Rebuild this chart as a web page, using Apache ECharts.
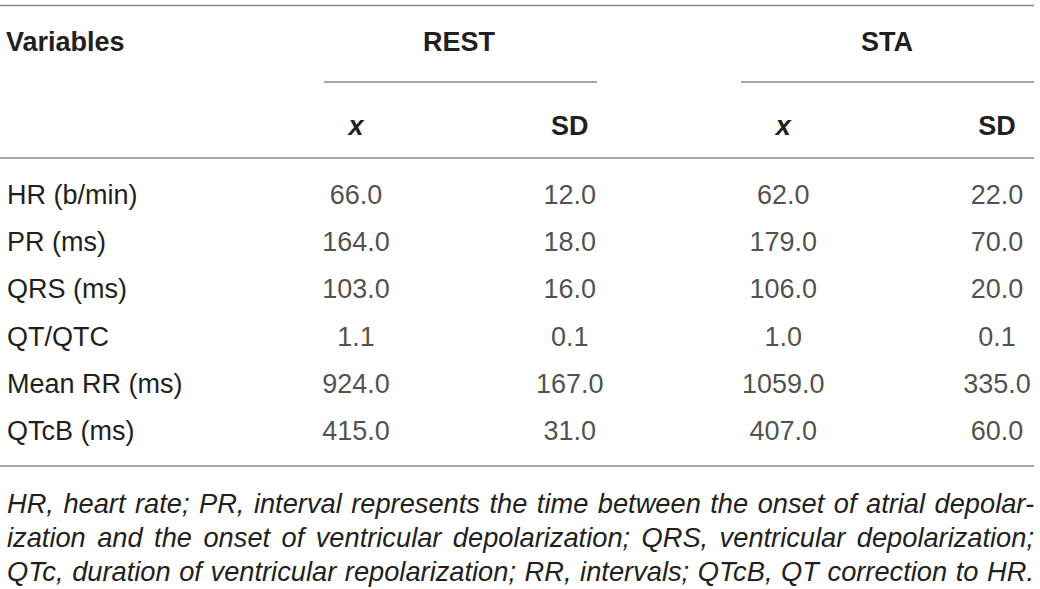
<!DOCTYPE html>
<html>
<head>
<meta charset="utf-8">
<script src="https://cdn.jsdelivr.net/npm/echarts@6/dist/echarts.min.js"></script>
<style>
  html, body { margin: 0; padding: 0; background: #fff; }
  #chart { width: 1040px; height: 589px; }
</style>
</head>
<body>
<div id="chart"></div>
<script>
// table data
const variables = ['HR (b/min)', 'PR (ms)', 'QRS (ms)', 'QT/QTC', 'Mean RR (ms)', 'QTcB (ms)'];
const columns = ['x', 'SD', 'x', 'SD'];
const groups = ['REST', 'STA'];
const restMean = [66.0, 164.0, 103.0, 1.1, 924.0, 415.0];
const restSD = [12.0, 18.0, 16.0, 0.1, 167.0, 31.0];
const staMean = [62.0, 179.0, 106.0, 1.0, 1059.0, 407.0];
const staSD = [22.0, 70.0, 20.0, 0.1, 335.0, 60.0];
const footnoteLines = [
    'HR, heart rate; PR, interval represents the time between the onset of atrial depolar-',
    'ization and the onset of ventricular depolarization; QRS, ventricular depolarization;',
    'QTc, duration of ventricular repolarization; RR, intervals; QTcB, QT correction to HR.'
];

const FONT = '"Liberation Sans", Arial, Helvetica, sans-serif';
const TEXT = '#231f20';
const RULE = '#8a8a8a';

// build cell data: [column index, row index, value]
function cells(values, col) {
    return values.map((v, i) => [col, i, v]);
}

function cellSeries(values, col) {
    return {
        type: 'scatter',
        data: cells(values, col),
        symbolSize: 0,
        silent: true,
        label: {
            show: true,
            position: 'inside',
            formatter: p => p.value[2].toFixed(1),
            fontFamily: FONT,
            fontSize: 27,
            color: TEXT
        }
    };
}

// justified footnote: one text element per word
function footnoteGraphics() {
    const left = 7, right = 1034;
    const ctx = document.createElement('canvas').getContext('2d');
    let size = 28;
    const fontOf = s => `italic ${s}px ${FONT}`;
    // largest size where every line still fits with a little spacing left over
    while (size > 18) {
        ctx.font = fontOf(size);
        const widest = Math.max(...footnoteLines.map(l => ctx.measureText(l).width));
        if (widest <= right - left - 10) break;
        size -= 0.25;
    }
    ctx.font = fontOf(size);
    const ys = [503, 537, 571];
    const out = [];
    footnoteLines.forEach((line, li) => {
        const words = line.split(' ');
        const wordW = words.map(w => ctx.measureText(w).width);
        const total = wordW.reduce((a, b) => a + b, 0);
        const gap = (right - left - total) / (words.length - 1);
        let x = left;
        words.forEach((w, wi) => {
            out.push({
                type: 'text',
                x: x,
                y: ys[li],
                style: {
                    text: w,
                    fontFamily: FONT,
                    fontSize: size,
                    fontStyle: 'italic',
                    fill: TEXT,
                    textVerticalAlign: 'middle',
                    verticalAlign: 'middle'
                }
            });
            x += wordW[wi] + gap;
        });
    });
    return out;
}

function rule(x1, x2, y) {
    return {
        type: 'line',
        shape: { x1: x1, y1: y, x2: x2, y2: y },
        style: { stroke: RULE, lineWidth: 1.5 },
        silent: true
    };
}

function headText(text, x, y, align) {
    return {
        type: 'text',
        x: x,
        y: y,
        style: {
            text: text,
            fontFamily: FONT,
            fontSize: 27,
            fontWeight: 'bold',
            fill: TEXT,
            align: align,
            textAlign: align,
            verticalAlign: 'middle',
            textVerticalAlign: 'middle'
        }
    };
}

const chart = echarts.init(document.getElementById('chart'), null, { renderer: 'svg' });

chart.setOption({
    animation: false,
    backgroundColor: '#ffffff',
    grid: { left: 356, right: 43, top: 195, bottom: 158 },
    xAxis: {
        type: 'category',
        data: columns,
        position: 'top',
        boundaryGap: false,
        axisLine: { show: false },
        axisTick: { show: false },
        splitLine: { show: false },
        axisLabel: {
            margin: 69,
            verticalAlign: 'middle',
            fontFamily: FONT,
            fontSize: 27,
            fontWeight: 'bold',
            color: TEXT,
            formatter: v => v === 'x' ? '{i|x}' : v,
            rich: {
                i: { fontFamily: FONT, fontSize: 27, fontWeight: 'bold', fontStyle: 'italic', color: TEXT }
            }
        }
    },
    yAxis: {
        type: 'category',
        data: variables,
        inverse: true,
        boundaryGap: false,
        axisLine: { show: false },
        axisTick: { show: false },
        splitLine: { show: false },
        axisLabel: {
            align: 'left',
            margin: 349,
            fontFamily: FONT,
            fontSize: 27,
            color: TEXT
        }
    },
    series: [
        cellSeries(restMean, 0),
        cellSeries(restSD, 1),
        cellSeries(staMean, 2),
        cellSeries(staSD, 3)
    ],
    graphic: [
        rule(0, 1034, 5.5),
        headText('Variables', 6, 42, 'left'),
        headText(groups[0], 459, 42, 'center'),
        headText(groups[1], 887, 42, 'center'),
        rule(324, 597, 82),
        rule(741, 1034, 82),
        rule(0, 1034, 158),
        rule(0, 1034, 466),
        ...footnoteGraphics()
    ]
});
</script>
</body>
</html>
